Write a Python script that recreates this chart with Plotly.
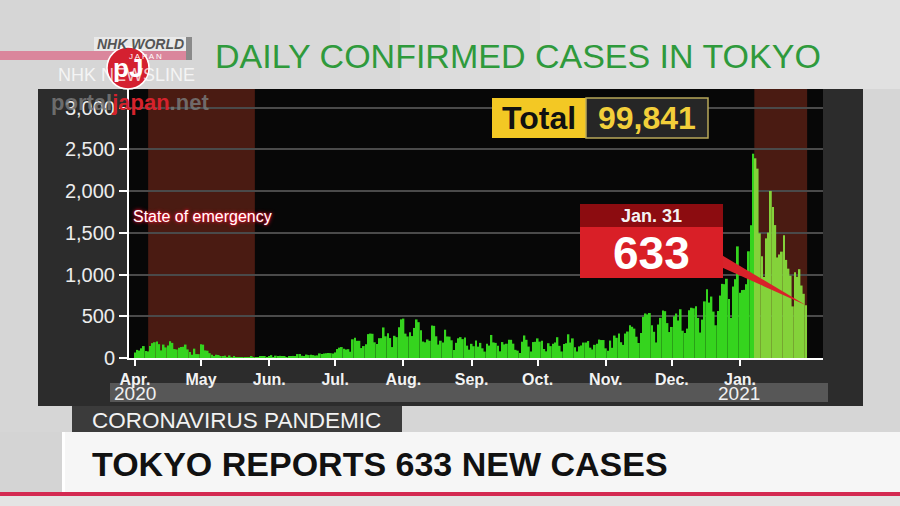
import pandas as pd
import plotly.graph_objects as go

# ---------------- data (daily confirmed cases, Tokyo) ----------------
apr_2020 = [66, 97, 89, 116, 143, 83, 79, 144, 178, 189, 197, 166, 91, 161, 127, 149, 201, 181, 107, 102,
            123, 132, 134, 161, 103, 72, 39, 112, 47, 46]
may_2020 = [165, 160, 91, 87, 58, 38, 23, 39, 36, 22, 15, 28, 10, 30, 9, 14, 5, 10, 5, 5,
            11, 3, 2, 14, 8, 10, 11, 15, 22, 14, 5]
jun_2020 = [13, 34, 12, 28, 20, 26, 14, 13, 12, 18, 22, 25, 24, 47, 48, 27, 16, 41, 35, 39,
            35, 29, 31, 55, 48, 54, 57, 60, 58, 54]
jul_2020 = [67, 107, 124, 131, 111, 102, 106, 75, 224, 243, 206, 206, 119, 143, 165, 286, 293, 290, 188, 168,
            237, 238, 366, 260, 295, 239, 131, 266, 250, 367, 463]
aug_2020 = [472, 292, 258, 309, 263, 360, 462, 429, 331, 197, 188, 222, 206, 389, 385, 260, 161, 207, 186, 339,
            258, 256, 212, 95, 182, 236, 250, 226, 247, 148, 100]
sep_2020 = [170, 141, 211, 136, 181, 116, 77, 170, 149, 276, 187, 181, 146, 80, 191, 163, 171, 220, 218, 172,
            98, 88, 59, 195, 270, 218, 137, 78, 191, 194]
oct_2020 = [235, 196, 207, 108, 80, 177, 142, 172, 186, 249, 146, 78, 167, 177, 284, 185, 235, 130, 78, 139,
            150, 185, 186, 203, 124, 102, 158, 171, 221, 215, 215]
nov_2020 = [116, 87, 209, 122, 269, 242, 294, 189, 157, 293, 317, 393, 374, 352, 255, 180, 298, 493, 534, 522,
            539, 391, 314, 186, 401, 481, 570, 561, 418, 311]
dec_2020 = [372, 500, 533, 449, 584, 327, 299, 352, 572, 602, 595, 621, 480, 305, 460, 678, 822, 664, 736, 556,
            392, 563, 748, 888, 884, 949, 708, 481, 856, 944, 1337]
jan_2021 = [783, 814, 816, 884, 1278, 1591, 2447, 2392, 2268, 1494, 1219, 970, 1433, 1502, 2001, 1809, 1592, 1204, 1240, 1274,
            1471, 1175, 1070, 986, 618, 1026, 973, 1064, 868, 769, 633]

start_date = "2020-04-01"
emergency_periods = [("2020-04-07", "2020-05-25 12:00"), ("2021-01-07 12:00", "2021-01-31 12:00")]
total_cases = "99,841"
latest_label = "Jan. 31"

y_tick_vals = [0, 500, 1000, 1500, 2000, 2500, 3000]
y_tick_text = ["0", "500", "1,000", "1,500", "2,000", "2,500", "3,000"]
x_tick_vals = ["2020-04-01", "2020-05-01", "2020-06-01", "2020-07-01", "2020-08-01", "2020-09-01",
               "2020-10-01", "2020-11-01", "2020-12-01", "2021-01-01"]
x_tick_text = ["Apr.", "May", "Jun.", "Jul.", "Aug.", "Sep.", "Oct.", "Nov.", "Dec.", "Jan."]

title_text = "DAILY CONFIRMED CASES IN TOKYO"
headline = "TOKYO REPORTS 633 NEW CASES"
section = "CORONAVIRUS PANDEMIC"

# ---------------- build ----------------
cases = apr_2020 + may_2020 + jun_2020 + jul_2020 + aug_2020 + sep_2020 + oct_2020 + nov_2020 + dec_2020 + jan_2021
dates = pd.date_range(start_date, periods=len(cases), freq="D")
em2_start = pd.Timestamp(emergency_periods[1][0])
bar_colors = ["#84d23a" if d >= em2_start else "#35d41e" for d in dates]

W, H = 900, 506
def px(x):
    return x / W
def py(y):
    return 1 - y / H

FONT = "Liberation Sans, Arial, sans-serif"

fig = go.Figure()
fig.add_trace(go.Bar(x=dates, y=cases, marker=dict(color=bar_colors, line=dict(width=0)),
                     hoverinfo="skip", showlegend=False))

# callout pointer wedge to the last data point
last_date, last_val = dates[-1], cases[-1]
fig.add_trace(go.Scatter(x=[pd.Timestamp("2020-12-20"), last_date, pd.Timestamp("2020-12-20")],
                         y=[1290, last_val, 1130], fill="toself", fillcolor="#d8222a",
                         mode="lines", line=dict(width=0, color="#d8222a"),
                         hoverinfo="skip", showlegend=False))

shapes = []
def rect(x0, y0, x1, y1, color, layer="above", line=None):
    d = dict(type="rect", xref="paper", yref="paper", x0=px(x0), x1=px(x1), y0=py(y1), y1=py(y0),
             fillcolor=color, line=dict(width=0) if line is None else line, layer=layer)
    shapes.append(d)

# background pieces (soft light gradient at the top right)
rect(0, 0, 900, 432, "#d6d6d6", layer="below")
for gx in (260, 400, 540, 680):
    rect(gx, 0, 900, 89, "rgba(255,255,255,0.09)", layer="below")
rect(38, 89, 863, 406, "#2c2c2c", layer="below")
rect(129, 89, 823, 358, "#070707", layer="below")
for x0, x1 in emergency_periods:
    shapes.append(dict(type="rect", xref="x", yref="paper", x0=x0, x1=x1, y0=py(358), y1=py(89),
                       fillcolor="#4a1b12", line=dict(width=0), layer="below"))
rect(110, 383, 828, 402, "#575757", layer="below")
# bottom banner
rect(0, 432, 900, 506, "#d4d4d4", layer="below")
rect(62, 432, 900, 493, "#f6f6f6", layer="below")
rect(62, 432, 65, 493, "#ffffff", layer="below")
rect(0, 492, 900, 496, "#d42a52", layer="below")
rect(0, 496, 900, 506, "#e4e4e4", layer="below")
rect(72, 406, 402, 432, "#3b3b3b", layer="below")
# NHK logo & watermark
rect(0, 51, 192, 60, "rgba(222,70,110,0.55)", layer="below")
rect(94, 37, 192, 51, "rgba(235,235,235,0.9)", layer="below")
rect(186, 37, 192, 60, "#8a8a8a", layer="below")
shapes.append(dict(type="circle", xref="paper", yref="paper", x0=px(107), x1=px(149), y0=py(89), y1=py(47),
                   fillcolor="#d42030", line=dict(color="white", width=1.5), layer="above"))
# total box
rect(492, 98, 586, 138, "#f3c824")
rect(586, 98, 708, 138, "#262626", line=dict(color="#b8a85a", width=1.5))
# callout box
rect(580, 204, 723, 227, "#8c0c10")
rect(580, 227, 723, 278, "#d91f27")

fig.update_layout(shapes=shapes)

ann = []
def text(x, y, s, size, color, xanchor="center", family=FONT, bold=False, shadow=None, yanchor="middle"):
    f = dict(family=family, size=size, color=color)
    if shadow:
        f["shadow"] = shadow
    ann.append(dict(xref="paper", yref="paper", x=px(x), y=py(y), text=("<b>%s</b>" % s) if bold else s,
                    showarrow=False, xanchor=xanchor, yanchor=yanchor, font=f))

text(518, 56, title_text, 34, "#2f9a3c")
text(90, 464, headline, 34, "#111111", xanchor="left", bold=True)
text(90, 420, section, 22.5, "#f2f2f2", xanchor="left")
text(539, 118, "Total", 32, "#111111", bold=True)
text(647, 118, total_cases, 32, "#f2cf3a", bold=True)
text(651, 216, latest_label, 18, "#f4f4f4", bold=True)
text(651, 253, f"{last_val}", 46, "#ffffff", bold=True)
text(131, 217, "State of emergency", 16, "#ffffff", xanchor="left",
     shadow="0px 0px 2px #ff1030, 0px 0px 4px #ff1030")
text(112, 393, "2020", 19, "#f0f0f0", xanchor="left")
text(716, 393, "2021", 19, "#f0f0f0", xanchor="left")
# logos / watermark
text(140, 44, "<i>NHK WORLD</i>", 14, "#555555", bold=True)
text(145, 56, "J A P A N", 8, "#ffffff")
text(126, 75, "NHK NEWSLINE", 18, "rgba(255,255,255,0.75)")
text(128, 68, "pJ", 26, "#ffffff", bold=True)
text(130, 103, '<span style="color:rgba(120,120,120,0.85)">portal</span>'
              '<span style="color:#d5222c">japan</span>'
              '<span style="color:rgba(120,120,120,0.85)">.net</span>', 22, "#777777", bold=True)

fig.update_layout(annotations=ann)

fig.update_layout(
    width=W, height=H, autosize=False,
    margin=dict(l=0, r=0, t=0, b=0, pad=0),
    paper_bgcolor="#d6d6d6", plot_bgcolor="rgba(0,0,0,0)",
    bargap=0.15, showlegend=False,
    xaxis=dict(domain=[px(129), px(823)], type="date",
               range=["2020-03-29 07:00", "2021-02-07 17:00"],
               tickvals=x_tick_vals, ticktext=x_tick_text,
               ticks="outside", ticklen=6, tickwidth=2, tickcolor="#ffffff",
               tickfont=dict(family=FONT, size=16, color="#f2f2f2", weight="bold"),
               showline=True, linecolor="#ffffff", linewidth=2,
               showgrid=False, zeroline=False, fixedrange=True, automargin=False),
    yaxis=dict(domain=[py(358), py(89)], range=[0, 3222],
               tickvals=y_tick_vals, ticktext=y_tick_text,
               ticks="outside", ticklen=8, tickwidth=2, tickcolor="#ffffff",
               tickfont=dict(family=FONT, size=20, color="#ececec"),
               showline=True, linecolor="#ffffff", linewidth=2,
               showgrid=True, gridcolor="#4a4a4a", gridwidth=1.5,
               zeroline=False, fixedrange=True, automargin=False),
)

fig.write_html(
    "out.html", config={"displayModeBar": False, "responsive": False},
    post_script=("document.documentElement.style.margin='0px';document.documentElement.style.padding='0px';"
                 "document.documentElement.style.overflow='hidden';"
                 "document.body.style.margin='0px';document.body.style.padding='0px';document.body.style.overflow='hidden';"
                 "var d=document.getElementById('{plot_id}');d.style.position='fixed';d.style.left='0px';d.style.top='0px';"),
)
